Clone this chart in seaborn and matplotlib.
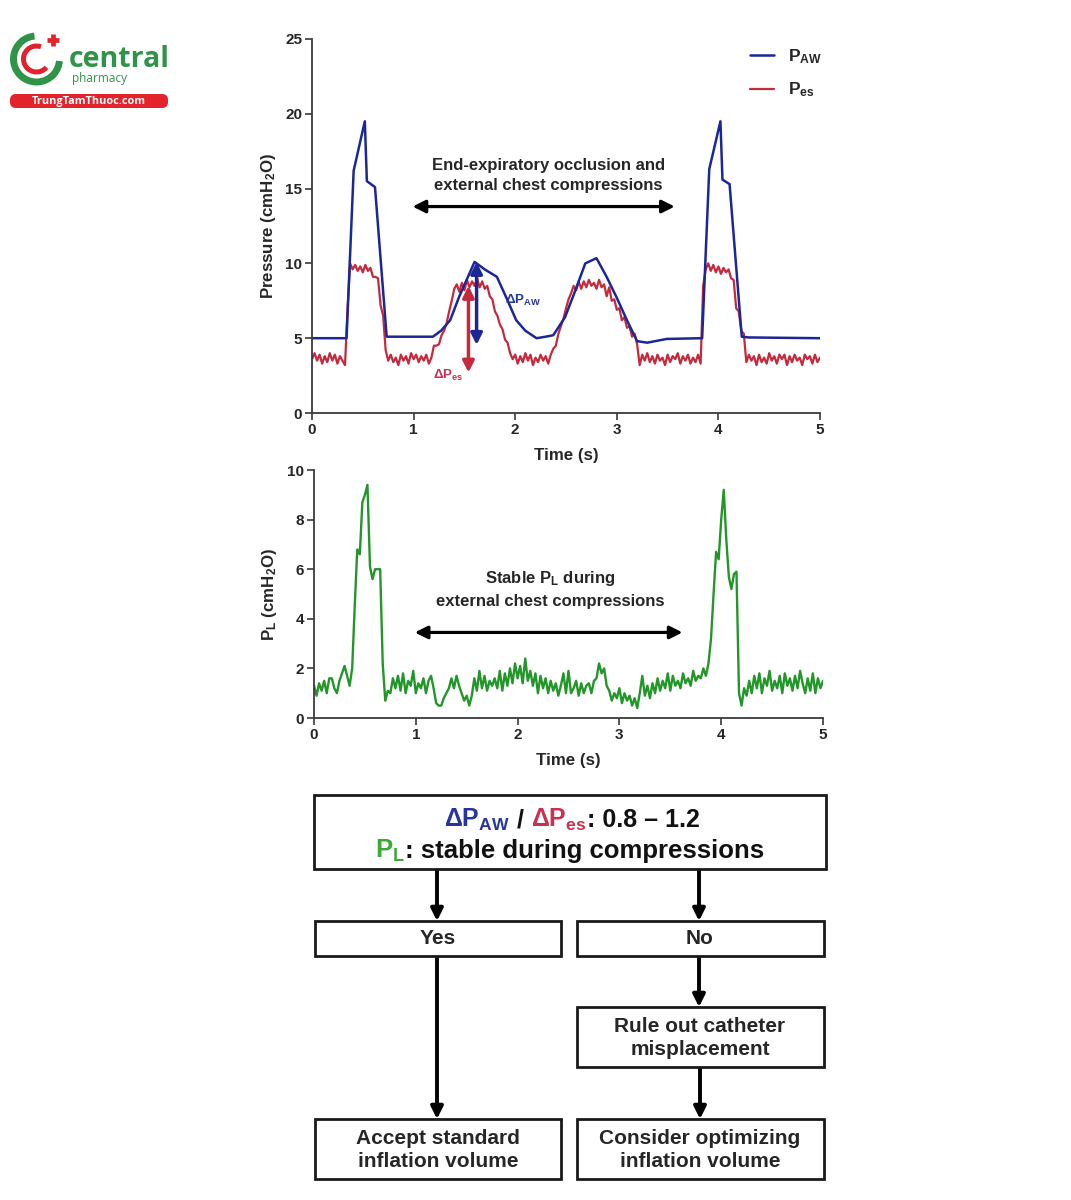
import numpy as np
import pandas as pd
import matplotlib
matplotlib.use("Agg")
import matplotlib.pyplot as plt
import seaborn as sns
from matplotlib.patches import Rectangle, Arc, FancyBboxPatch
from matplotlib.lines import Line2D

# ---------------- data ----------------
# Airway pressure (P_AW), irregular samples (time s, cmH2O)
paw_t = [0.00, 0.34, 0.41, 0.52, 0.54, 0.62, 0.735, 1.19, 1.27, 1.36, 1.45, 1.60, 1.70, 1.82, 1.92, 2.01,
         2.10, 2.21, 2.30, 2.375, 2.49, 2.57, 2.69, 2.80, 2.90, 3.00, 3.10, 3.20, 3.30, 3.49, 3.84,
         3.91, 4.02, 4.04, 4.11, 4.23, 4.30, 5.00]
paw_v = [5.0, 5.0, 16.2, 19.5, 15.5, 15.1, 5.1, 5.1, 5.5, 6.2, 7.8, 10.1, 9.6, 9.1, 7.6, 6.2,
         5.5, 5.0, 5.1, 5.2, 6.4, 7.8, 10.0, 10.35, 9.1, 7.7, 6.2, 4.8, 4.7, 4.95, 5.0,
         16.3, 19.5, 15.6, 15.3, 5.1, 5.05, 5.0]

# Oesophageal pressure (P_es), sampled every 0.025 s from 0 to 5 s
pes_v = [3.6, 4.0, 3.5, 3.9, 3.3, 3.8, 3.4, 4.0, 3.5, 3.9, 3.3, 3.8, 3.5, 3.2,
         7.0, 10.0, 9.6, 9.9, 9.5, 9.8, 9.4, 9.9, 9.5, 9.7, 9.1, 9.1, 9.0, 7.2, 6.5, 4.2, 3.5,
         3.9, 3.4, 3.7, 3.2, 3.9, 3.5, 3.8, 3.3, 4.0, 3.6, 3.9, 3.4, 3.8, 3.5, 3.9, 3.3, 3.7,
         4.5, 4.5, 4.6, 5.2, 5.5, 6.0, 6.8, 7.5, 8.3, 8.6, 8.1, 8.7, 8.2, 8.9, 8.4, 8.8, 8.5, 9.0,
         8.4, 8.8, 8.3, 8.5, 7.8, 7.6, 6.8, 6.5, 5.9, 5.6, 4.9, 4.7, 4.0, 3.6, 3.9,
         3.3, 3.8, 3.4, 4.0, 3.5, 3.9, 3.2, 3.7, 3.4, 3.9, 3.5, 3.8, 3.3,
         3.9, 4.3, 4.5, 5.3, 5.8, 6.3, 7.0, 7.6, 8.0, 8.5, 8.2, 8.8, 8.3, 8.8, 8.4, 8.9, 8.5, 8.7,
         8.3, 8.9, 8.4, 8.6, 7.8, 8.4, 7.5, 7.6, 6.9, 7.0, 6.2, 6.4, 5.7, 5.8, 5.1, 5.3, 4.6, 3.2,
         3.9, 3.5, 4.0, 3.4, 3.8, 3.3, 3.9, 3.5, 3.7, 3.2, 3.9, 3.4, 3.8, 3.6, 4.0, 3.3, 3.8, 3.5,
         3.9, 3.3, 3.7, 3.4, 3.9, 3.3,
         8.5, 9.6, 10.0, 9.5, 9.9, 9.4, 9.8, 9.3, 9.7, 9.4, 9.6, 9.0, 8.9, 7.0, 6.8, 5.5, 5.3, 3.4,
         3.9, 3.5, 3.8, 3.2, 3.9, 3.4, 3.7, 3.3, 4.0, 3.5, 3.8, 3.3, 3.9, 3.6, 3.9, 3.2, 3.8, 3.4,
         3.9, 3.5, 3.7, 3.2, 3.9, 3.6, 3.8, 3.3, 3.9, 3.4, 3.7]

# Transpulmonary pressure (P_L), sampled every 0.025 s from 0 to 5 s
pl_v = [1.3, 0.9, 1.4, 1.1, 1.5, 1.0, 1.6, 1.6, 1.2, 1.0, 1.5, 1.8, 2.1,
        1.7, 1.3, 2.0, 4.5, 6.8, 6.6, 8.7, 9.0, 9.4, 6.1, 5.6, 6.0, 6.0, 6.0, 2.2, 0.7, 1.1,
        1.0, 1.6, 1.2, 1.7, 1.1, 1.8, 1.0, 1.5, 1.3, 1.9, 1.0, 1.4, 1.2, 1.6, 1.0, 1.5, 1.7, 1.2,
        0.6, 0.5, 0.5, 0.8, 1.0, 1.2, 1.6, 1.2, 1.7, 1.3, 1.0, 0.7, 0.9, 0.5, 0.9, 1.6, 1.1, 1.9,
        1.2, 1.7, 1.1, 1.5, 1.3, 1.6, 1.2, 1.9, 1.1, 1.8, 1.3, 2.0, 1.4, 2.2, 1.6, 2.1, 1.4, 2.4,
        1.5, 1.9, 1.3, 1.8, 1.0, 1.7, 1.2, 1.6, 1.0, 1.5, 1.1, 1.4, 0.9, 1.3, 1.8, 1.0, 1.9, 1.0,
        1.2, 1.5, 0.9, 1.4, 1.0, 1.3, 1.4, 1.0, 1.5, 1.6, 2.2, 1.8, 2.0, 1.3, 1.1, 0.7, 1.0, 0.8,
        1.2, 0.6, 1.0, 0.7, 0.9, 0.5, 0.8, 0.4, 1.0, 1.7, 0.9, 1.3, 0.8, 1.4, 1.0, 1.6, 1.1, 1.5,
        1.2, 1.8, 1.1, 1.7, 1.3, 1.5, 1.2, 1.8, 1.4, 1.6, 1.3, 1.9, 1.5, 1.7, 1.6, 2.0, 1.7, 2.2,
        3.2, 5.0, 6.7, 6.4, 8.0, 9.2, 7.2, 5.7, 5.2, 5.8, 5.9, 1.0, 0.5, 1.2, 0.9,
        1.5, 1.0, 1.7, 1.2, 1.8, 1.0, 1.6, 1.3, 1.9, 1.1, 1.5, 1.2, 1.7, 1.0, 1.8, 1.3, 1.6, 1.1,
        1.7, 1.2, 1.9, 1.4, 1.0, 1.6, 1.1, 1.8, 1.0, 1.6, 1.2, 1.5]

x_ticks = [0, 1, 2, 3, 4, 5]
y_ticks_top = [0, 5, 10, 15, 20, 25]
y_ticks_pl = [0, 2, 4, 6, 8, 10]

BLUE = "#1c2796"
RED = "#c42a3c"
GREEN = "#23962a"
TXT_BLUE = "#26369e"
TXT_RED = "#c93152"
TXT_GREEN = "#3aaa35"
LOGO_GREEN = "#2f9448"
LOGO_RED = "#e3222b"

# ---------------- style ----------------
sns.set_theme(style="ticks")
plt.rcParams["font.family"] = ["Liberation Sans", "DejaVu Sans"]
plt.rcParams["font.weight"] = "bold"
plt.rcParams["axes.labelweight"] = "bold"
plt.rcParams["mathtext.fontset"] = "custom"
plt.rcParams["mathtext.rm"] = "Liberation Sans:bold"
plt.rcParams["mathtext.bf"] = "Liberation Sans:bold"
plt.rcParams["mathtext.it"] = "Liberation Sans:bold"

W, H = 1071, 1200
fig = plt.figure(figsize=(W / 100, H / 100), dpi=100)

def style_axes(ax):
    sns.despine(ax=ax)
    for s in ("left", "bottom"):
        ax.spines[s].set_color("#3a3a3a")
        ax.spines[s].set_linewidth(1.3)
    ax.tick_params(direction="out", length=5, width=1.2, color="#3a3a3a",
                   labelsize=11, pad=2)
    for lab in ax.get_xticklabels() + ax.get_yticklabels():
        lab.set_fontweight("bold")

AXFS = 12.2
ANFS = 12

# ---------------- top panel ----------------
ax1 = fig.add_axes([312 / W, 1 - 413 / H, 508 / W, 374 / H])
df_paw = pd.DataFrame({"t": paw_t, "v": paw_v})
pes_t = np.linspace(0, 5, len(pes_v))
df_pes = pd.DataFrame({"t": pes_t, "v": pes_v})
sns.lineplot(data=df_pes, x="t", y="v", ax=ax1, color=RED, linewidth=1.6, estimator=None, sort=False)
sns.lineplot(data=df_paw, x="t", y="v", ax=ax1, color=BLUE, linewidth=1.8, estimator=None, sort=False)
ax1.set_xlim(0, 5)
ax1.set_ylim(0, 25)
ax1.set_xticks(x_ticks)
ax1.set_yticks(y_ticks_top)
ax1.set_xlabel("Time (s)", fontsize=AXFS, fontweight="bold", labelpad=8)
ax1.set_ylabel(r"Pressure (cmH$_{\mathbf{2}}$O)", fontsize=AXFS, fontweight="bold", labelpad=5)
style_axes(ax1)

ax1.text(2.33, 15.9, "End-expiratory occlusion and\nexternal chest compressions",
         ha="center", va="center", fontsize=ANFS, fontweight="bold", linespacing=1.4)
ax1.annotate("", xy=(0.99, 13.8), xytext=(3.57, 13.8),
             arrowprops=dict(arrowstyle="<|-|>", lw=2.3, color="black", mutation_scale=19,
                             shrinkA=0, shrinkB=0))
ax1.annotate("", xy=(1.62, 10.1), xytext=(1.62, 4.55),
             arrowprops=dict(arrowstyle="<|-|>", lw=2.5, color=BLUE, mutation_scale=17,
                             shrinkA=0, shrinkB=0))
ax1.annotate("", xy=(1.54, 8.5), xytext=(1.54, 2.7),
             arrowprops=dict(arrowstyle="<|-|>", lw=2.5, color=RED, mutation_scale=17,
                             shrinkA=0, shrinkB=0))
ax1.text(1.9, 7.5, r"ΔP$_{\mathbf{AW}}$", color=TXT_BLUE, fontsize=9.5, fontweight="bold",
         ha="left", va="center")
ax1.text(1.19, 2.5, r"ΔP$_{\mathbf{es}}$", color=TXT_RED, fontsize=9.5, fontweight="bold",
         ha="left", va="center")

handles = [Line2D([], [], color=BLUE, lw=1.8), Line2D([], [], color=RED, lw=1.6)]
ax1.legend(handles, [r"P$_{\mathbf{AW}}$", r"P$_{\mathbf{es}}$"], loc="upper right",
           bbox_to_anchor=(1.035, 1.02), frameon=False, prop={"size": 12.5, "weight": "bold"},
           handlelength=1.4, labelspacing=0.85, handletextpad=0.8)

# ---------------- middle panel ----------------
ax2 = fig.add_axes([314 / W, 1 - 718 / H, 509 / W, 248 / H])
pl_t = np.linspace(0, 5, len(pl_v))
df_pl = pd.DataFrame({"t": pl_t, "v": pl_v})
sns.lineplot(data=df_pl, x="t", y="v", ax=ax2, color=GREEN, linewidth=1.7, estimator=None, sort=False)
ax2.set_xlim(0, 5)
ax2.set_ylim(0, 10)
ax2.set_xticks(x_ticks)
ax2.set_yticks(y_ticks_pl)
ax2.set_xlabel("Time (s)", fontsize=AXFS, fontweight="bold", labelpad=8)
ax2.set_ylabel(r"P$_{\mathbf{L}}$ (cmH$_{\mathbf{2}}$O)", fontsize=AXFS, fontweight="bold", labelpad=6)
style_axes(ax2)
ax2.text(2.32, 5.2, "Stable P$_{\\mathbf{L}}$ during\nexternal chest compressions",
         ha="center", va="center", fontsize=ANFS, fontweight="bold", linespacing=1.55)
ax2.annotate("", xy=(0.99, 3.45), xytext=(3.62, 3.45),
             arrowprops=dict(arrowstyle="<|-|>", lw=2.3, color="black", mutation_scale=19,
                             shrinkA=0, shrinkB=0))

# ---------------- overlay (flowchart + logo), pixel coordinates ----------------
axf = fig.add_axes([0, 0, 1, 1])
axf.set_xlim(0, W)
axf.set_ylim(H, 0)
axf.axis("off")
axf.patch.set_visible(False)

def box(x0, y0, x1, y1):
    axf.add_patch(Rectangle((x0, y0), x1 - x0, y1 - y0, fill=True, facecolor="white",
                            edgecolor="#1a1a1a", lw=2.0, zorder=2))

def arrow(x, y0, y1):
    axf.annotate("", xy=(x, y1), xytext=(x, y0),
                 arrowprops=dict(arrowstyle="-|>", lw=2.8, color="black", mutation_scale=18,
                                 shrinkA=0, shrinkB=0), zorder=1)

box(314, 795, 826, 869)
box(315, 921, 561, 956)
box(577, 921, 824, 956)
box(577, 1007, 824, 1067)
box(315, 1119, 561, 1179)
box(577, 1119, 824, 1179)

arrow(437, 869, 921)
arrow(699, 869, 921)
arrow(437, 956, 1119)
arrow(699, 956, 1007)
arrow(700, 1067, 1119)

FS = 15
axf.text(438, 939, "Yes", ha="center", va="center", fontsize=FS, fontweight="bold", zorder=3)
axf.text(700, 939, "No", ha="center", va="center", fontsize=FS, fontweight="bold", zorder=3)
axf.text(700, 1038, "Rule out catheter\nmisplacement", ha="center", va="center",
         fontsize=FS, fontweight="bold", linespacing=1.3, zorder=3)
axf.text(438, 1150, "Accept standard\ninflation volume", ha="center", va="center",
         fontsize=FS, fontweight="bold", linespacing=1.3, zorder=3)
axf.text(700, 1150, "Consider optimizing\ninflation volume", ha="center", va="center",
         fontsize=FS, fontweight="bold", linespacing=1.3, zorder=3)

def rainbow(xc, y, pieces, fs):
    r = fig.canvas.get_renderer()
    txts = []
    for s, c in pieces:
        t = axf.text(0, y, s, color=c, fontsize=fs, fontweight="bold", ha="left",
                     va="baseline", zorder=3)
        txts.append(t)
    widths = [t.get_window_extent(r).width for t in txts]
    x = xc - sum(widths) / 2
    for t, w in zip(txts, widths):
        t.set_x(x)
        x += w

rainbow(572, 827, [(r"ΔP$_{\mathbf{AW}}$", TXT_BLUE), (" / ", "#111111"),
                   (r"ΔP$_{\mathbf{es}}$", TXT_RED), (": 0.8 – 1.2", "#111111")], 18)
rainbow(570, 858, [(r"P$_{\mathbf{L}}$", TXT_GREEN), (": stable during compressions", "#111111")], 18.5)

# ---------------- logo ----------------
axf.add_patch(Arc((36.5, 59), 46, 46, theta1=5, theta2=265, color=LOGO_GREEN, lw=5.0, zorder=3))
axf.add_patch(Arc((36.5, 59), 26, 26, theta1=40, theta2=290, color=LOGO_RED, lw=3.6, zorder=3))
axf.plot([47, 59], [40, 40], color=LOGO_RED, lw=3.4, solid_capstyle="butt", zorder=3)
axf.plot([53, 53], [34, 46], color=LOGO_RED, lw=3.4, solid_capstyle="butt", zorder=3)
axf.text(69, 67, "central", color=LOGO_GREEN, fontsize=20.5, fontweight="bold",
         ha="left", va="baseline", family=["Open Sans", "DejaVu Sans"])
axf.text(72, 82, "pharmacy", color=LOGO_GREEN, fontsize=8.5, fontweight="normal",
         ha="left", va="baseline", family=["Open Sans", "DejaVu Sans"])
axf.add_patch(FancyBboxPatch((10, 94), 158, 14, boxstyle="round,pad=0,rounding_size=6",
                             facecolor=LOGO_RED, edgecolor="none", zorder=3))
axf.text(89, 101.5, "TrungTamThuoc.com", color="white", fontsize=7.8, fontweight="bold",
         ha="center", va="center", zorder=4, family=["Open Sans", "DejaVu Sans"])

fig.savefig("out.png", dpi=100)
